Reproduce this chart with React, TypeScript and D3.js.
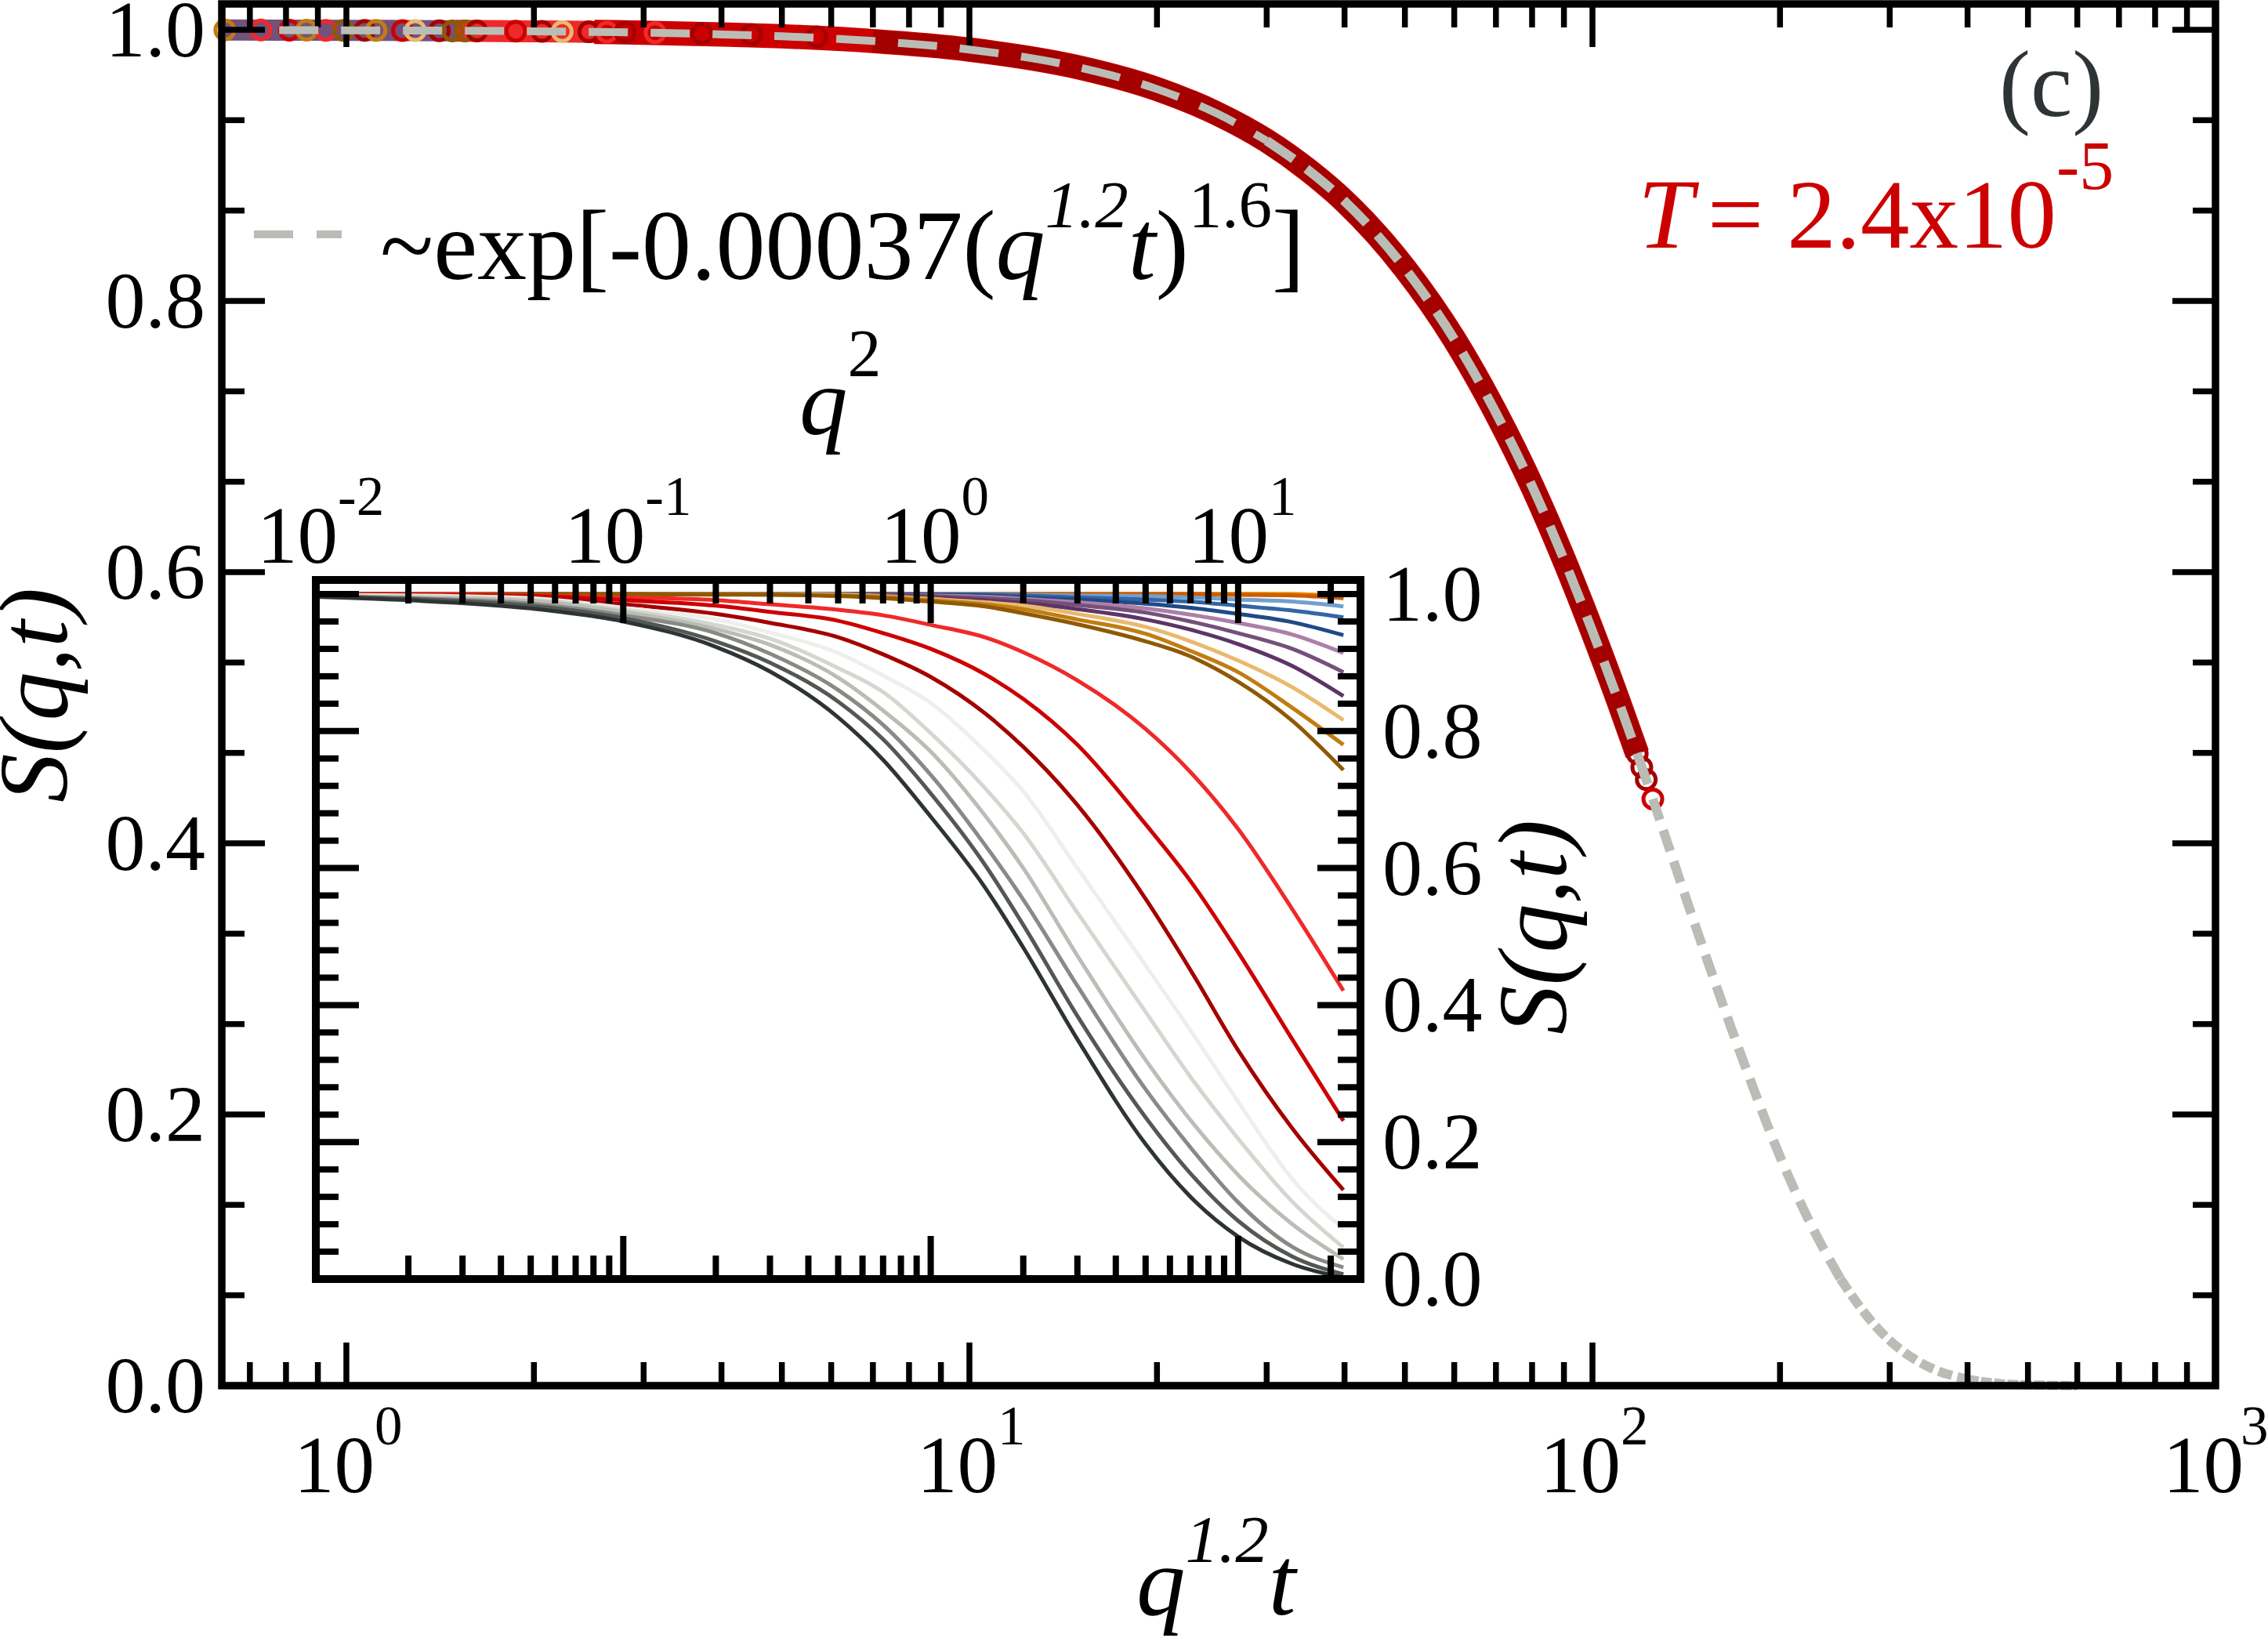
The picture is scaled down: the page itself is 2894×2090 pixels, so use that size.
/**
 * Scaled structure factor chart, with the un-scaled S(q,t) curves as an inset
 */

import { useEffect, useRef } from 'react';
import * as d3 from 'd3';

const FONT = '"Liberation Serif", "Times New Roman", serif';

// Main panel: collapsed curve
const masterX = [0.64, 0.78, 1, 1.5, 2, 2.5, 3, 4, 5, 7, 10, 15, 20, 25, 30, 35, 40, 45, 50, 60, 70, 80, 90, 100, 110, 118, 125, 150, 175, 200, 225, 250, 275, 300, 325, 350, 400, 450, 500, 600];
const masterS = [0.9998, 0.9997, 0.9996, 0.9993, 0.9989, 0.9984, 0.9979, 0.9966, 0.9952, 0.9917, 0.9854, 0.9722, 0.9563, 0.9381, 0.9182, 0.8964, 0.8736, 0.8493, 0.824, 0.7718, 0.7175, 0.6635, 0.6093, 0.5563, 0.5053, 0.466, 0.4327, 0.3247, 0.2381, 0.169, 0.1174, 0.0788, 0.0521, 0.0333, 0.021, 0.0129, 0.0046, 0.0015, 0.0005, 0];

// Open circles which can still be told apart at the ends of the band
const ringX = [0.638, 0.729, 0.81, 0.863, 0.927, 0.99, 1.07, 1.116, 1.23, 1.29, 1.41, 1.48, 1.55, 1.62, 1.87, 2.06, 2.22, 2.45, 2.62, 2.8, 3.13, 3.72, 4.47, 5.69, 118, 120, 122, 125];
const ringS = [0.9998, 0.9998, 0.9997, 0.9997, 0.9996, 0.9996, 0.9995, 0.9995, 0.9994, 0.9994, 0.9993, 0.9992, 0.9991, 0.9991, 0.999, 0.9988, 0.9987, 0.9985, 0.9983, 0.9982, 0.9978, 0.9972, 0.9964, 0.9948, 0.466, 0.456, 0.447, 0.4327];
const ringColors = ['#c17d11', '#ef2929', '#cc0000', '#c17d11', '#ef2929', '#8f5902', '#a40000', '#c17d11', '#cc0000', '#e9b96e', '#a40000', '#8f5902', '#8f5902', '#a40000', '#cc0000', '#a40000', '#e9b96e', '#a40000', '#ef2929', '#a40000', '#ef2929', '#a40000', '#a40000', '#a40000', '#a40000', '#a40000', '#a40000', '#cc0000'];

// Inset: S(q,t) against q^2, one list per curve on a shared q^2 grid
const q2Grid = [0.01, 0.02, 0.05, 0.1, 0.2, 0.3, 0.5, 0.7, 1, 1.5, 2, 3, 5, 7, 10, 15, 22];

const sGreenLight = [1, 1, 1, 1, 1, 1, 1, 1, 1, 1, 1, 1, 1, 1, 1, 0.999, 0.995];
const sGreenMid = [1, 1, 1, 1, 1, 1, 1, 1, 1, 1, 1, 1, 1, 1, 1, 0.999, 0.995];
const sGreenDark = [1, 1, 1, 1, 1, 1, 1, 1, 1, 1, 1, 1, 1, 1, 1, 0.999, 0.995];
const sYellowLight = [1, 1, 1, 1, 1, 1, 1, 1, 1, 1, 1, 1, 1, 1, 1, 1, 0.995];
const sYellowMid = [1, 1, 1, 1, 1, 1, 1, 1, 1, 1, 1, 1, 1, 1, 1, 1, 0.995];
const sYellowDark = [1, 1, 1, 1, 1, 1, 1, 1, 1, 1, 1, 1, 1, 1, 1, 1, 0.995];
const sOrangeLight = [1, 1, 1, 1, 1, 1, 1, 1, 1, 1, 1, 1, 1, 1, 0.999, 0.999, 0.998];
const sOrangeMid = [1, 1, 1, 1, 1, 1, 1, 1, 1, 1, 1, 1, 1, 1, 0.999, 0.999, 0.997];
const sOrangeDark = [1, 1, 1, 1, 1, 1, 1, 1, 1, 1, 1, 1, 1, 1, 0.999, 0.998, 0.994];
const sBlueLight = [1, 1, 1, 1, 1, 1, 1, 1, 1, 1, 0.999, 0.998, 0.997, 0.995, 0.992, 0.989, 0.982];
const sBlueMid = [1, 1, 1, 1, 1, 1, 1, 1, 0.999, 0.999, 0.998, 0.995, 0.992, 0.989, 0.983, 0.976, 0.966];
const sBlueDark = [1, 1, 1, 1, 1, 1, 1, 1, 0.999, 0.998, 0.995, 0.992, 0.986, 0.98, 0.971, 0.959, 0.94];
const sPlumLight = [1, 1, 1, 1, 1, 1, 1, 0.999, 0.998, 0.996, 0.993, 0.988, 0.979, 0.97, 0.958, 0.941, 0.914];
const sPlumMid = [1, 1, 1, 1, 1, 1, 0.999, 0.999, 0.997, 0.994, 0.991, 0.984, 0.973, 0.96, 0.943, 0.92, 0.886];
const sPlumDark = [1, 1, 1, 1, 1, 1, 0.999, 0.998, 0.995, 0.991, 0.987, 0.978, 0.963, 0.948, 0.927, 0.895, 0.851];
const sTanLight = [1, 1, 1, 1, 1, 1, 0.999, 0.997, 0.993, 0.988, 0.983, 0.971, 0.952, 0.931, 0.903, 0.864, 0.816];
const sTanMid = [1, 1, 1, 1, 1, 0.999, 0.998, 0.996, 0.991, 0.985, 0.978, 0.963, 0.942, 0.917, 0.886, 0.834, 0.78];
const sTanDark = [1, 1, 1, 1, 0.999, 0.999, 0.997, 0.994, 0.989, 0.982, 0.972, 0.956, 0.931, 0.909, 0.872, 0.815, 0.743];
const sRedLight = [1, 1, 0.998, 0.995, 0.991, 0.985, 0.977, 0.969, 0.955, 0.937, 0.915, 0.874, 0.803, 0.74, 0.657, 0.54, 0.421];
const sRedMid = [1, 0.999, 0.997, 0.991, 0.983, 0.974, 0.961, 0.943, 0.92, 0.883, 0.847, 0.78, 0.664, 0.581, 0.477, 0.35, 0.231];
const sRedDark = [0.999, 0.998, 0.994, 0.985, 0.971, 0.958, 0.937, 0.912, 0.879, 0.826, 0.777, 0.692, 0.555, 0.451, 0.334, 0.22, 0.13];
const sGrey1 = [0.999, 0.998, 0.994, 0.98, 0.963, 0.944, 0.914, 0.881, 0.841, 0.771, 0.712, 0.6, 0.458, 0.363, 0.259, 0.146, 0.073];
const sGrey2 = [0.998, 0.997, 0.992, 0.977, 0.955, 0.935, 0.892, 0.857, 0.797, 0.717, 0.651, 0.535, 0.39, 0.295, 0.205, 0.113, 0.046];
const sGrey3 = [0.998, 0.995, 0.99, 0.974, 0.949, 0.926, 0.878, 0.83, 0.77, 0.677, 0.6, 0.472, 0.32, 0.232, 0.152, 0.08, 0.029];
const sGrey4 = [0.997, 0.994, 0.986, 0.969, 0.943, 0.913, 0.86, 0.809, 0.736, 0.634, 0.554, 0.428, 0.277, 0.192, 0.112, 0.047, 0.017];
const sGrey5 = [0.997, 0.993, 0.983, 0.965, 0.931, 0.9, 0.843, 0.788, 0.709, 0.605, 0.517, 0.384, 0.236, 0.154, 0.085, 0.033, 0.007];
const sGrey6 = [0.996, 0.991, 0.979, 0.96, 0.923, 0.887, 0.82, 0.758, 0.675, 0.572, 0.484, 0.35, 0.197, 0.12, 0.062, 0.022, 0.002];

// Drawing order: the flattest curve first, the darkest grey last
const insetSeries: [string, number[]][] = [
  ['#8ae234', sGreenLight], ['#73d216', sGreenMid], ['#4e9a06', sGreenDark],
  ['#fce94f', sYellowLight], ['#edd400', sYellowMid], ['#c4a000', sYellowDark],
  ['#fcaf3e', sOrangeLight], ['#f57900', sOrangeMid], ['#ce5c00', sOrangeDark],
  ['#729fcf', sBlueLight], ['#3465a4', sBlueMid], ['#204a87', sBlueDark],
  ['#ad7fa8', sPlumLight], ['#75507b', sPlumMid], ['#5c3566', sPlumDark],
  ['#e9b96e', sTanLight], ['#c17d11', sTanMid], ['#8f5902', sTanDark],
  ['#ef2929', sRedLight], ['#cc0000', sRedMid], ['#a40000', sRedDark],
  ['#eeeeec', sGrey1], ['#d3d7cf', sGrey2], ['#babdb6', sGrey3],
  ['#888a85', sGrey4], ['#555753', sGrey5], ['#2e3436', sGrey6],
];

const mainMajorX = [1, 10, 100, 1000];
const mainMinorX = [0.7, 0.8, 0.9, 2, 3, 4, 5, 6, 7, 8, 9, 20, 30, 40, 50, 60, 70, 80, 90, 200, 300, 400, 500, 600, 700, 800, 900];
const mainMajorY = [0, 0.2, 0.4, 0.6, 0.8, 1];
const mainMinorY = [1 / 15, 2 / 15, 4 / 15, 5 / 15, 7 / 15, 8 / 15, 10 / 15, 11 / 15, 13 / 15, 14 / 15];
const insetMajorX = [0.1, 1, 10];
const insetMinorX = [0.02, 0.03, 0.04, 0.05, 0.06, 0.07, 0.08, 0.09, 0.2, 0.3, 0.4, 0.5, 0.6, 0.7, 0.8, 0.9, 2, 3, 4, 5, 6, 7, 8, 9, 20];
const insetMajorY = [0, 0.2, 0.4, 0.6, 0.8, 1];
const insetMinorY = [0.04, 0.08, 0.12, 0.16, 0.24, 0.28, 0.32, 0.36, 0.44, 0.48, 0.52, 0.56, 0.64, 0.68, 0.72, 0.76, 0.84, 0.88, 0.92, 0.96];

const mainXLabels: [number, string][] = [[1, '0'], [10, '1'], [100, '2'], [1000, '3']];
const insetXLabels: [number, string][] = [[0.01, '-2'], [0.1, '-1'], [1, '0'], [10, '1']];

interface Part {
  text: string;
  size: number;
  italic?: boolean;
  rise?: number;
  dx?: number;
}

export default function App() {
  const svgRef = useRef<SVGSVGElement>(null);

  useEffect(() => {
    if (!svgRef.current) return;

    const svg = d3.select(svgRef.current);
    svg.selectAll('*').remove();

    // Text made of several runs on a common baseline (superscripts, italics)
    const rich = (
      parent: d3.Selection<any, unknown, null, undefined>,
      x: number,
      y: number,
      parts: Part[],
      fill = '#000',
      transform?: string
    ) => {
      const t = parent.append('text')
        .attr('x', x)
        .attr('y', y)
        .attr('fill', fill)
        .style('font-family', FONT);
      if (transform) t.attr('transform', transform);
      let prev = 0;
      parts.forEach(p => {
        const rise = p.rise || 0;
        t.append('tspan')
          .attr('dx', p.dx || 0)
          .attr('dy', prev - rise)
          .style('font-size', `${p.size}px`)
          .style('font-style', p.italic ? 'italic' : 'normal')
          .text(p.text);
        prev = rise;
      });
      return t;
    };

    // Tick marks only, labels are placed by hand below
    const ticks = (
      axis: d3.Axis<any>,
      values: number[],
      length: number,
      transform: string,
      width: number
    ) => {
      const g = svg.append('g')
        .attr('transform', transform)
        .call(axis.tickValues(values).tickSize(-length).tickFormat(() => '').offset(0));
      g.select('.domain').remove();
      g.selectAll('text').remove();
      g.selectAll('line').attr('stroke', '#000').attr('stroke-width', width);
    };

    // ---- Main panel ----
    const x = d3.scaleLog().domain([0.631, 1000]).range([283, 2827]);
    const y = d3.scaleLinear().domain([0, 1]).range([1768, 38]);

    const master = masterX.map((d, i) => [d, masterS[i]] as [number, number]);
    const masterLine = d3.line<[number, number]>()
      .x(d => x(d[0]))
      .y(d => y(d[1]))
      .curve(d3.curveMonotoneX);

    const band = (from: number, to: number, color: string, width: number) => {
      svg.append('path')
        .attr('d', masterLine(master.filter(d => d[0] >= from && d[0] <= to)))
        .attr('fill', 'none')
        .attr('stroke', color)
        .attr('stroke-width', width);
    };

    // Circles overlap so densely that they read as a solid band
    band(0.64, 2.5, '#75507b', 27);
    band(1.5, 10, '#ef2929', 28);
    band(2.5, 118, '#cc0000', 31);
    band(7, 118, '#a40000', 29);

    svg.append('g')
      .selectAll('circle')
      .data(ringX)
      .enter()
      .append('circle')
      .attr('cx', d => x(d))
      .attr('cy', (_d, i) => y(ringS[i]))
      .attr('r', 12)
      .attr('fill', 'none')
      .attr('stroke', (_d, i) => ringColors[i])
      .attr('stroke-width', 5);

    // Fit line, the dashes get shorter along the curve
    const dashed = (from: number, to: number, dash: string, width: number) => {
      svg.append('path')
        .attr('d', masterLine(master.filter(d => d[0] >= from && d[0] <= to)))
        .attr('fill', 'none')
        .attr('stroke', '#babdb6')
        .attr('stroke-width', width)
        .attr('stroke-dasharray', dash);
    };

    // The tail runs into the axis and goes under the frame
    dashed(125, 250, '28 14', 12);
    dashed(250, 400, '18 7', 12);
    dashed(400, 600, '14 3', 12);

    ticks(d3.axisBottom(x), mainMajorX, 55, 'translate(0,1768)', 7.5);
    ticks(d3.axisBottom(x), mainMinorX, 30, 'translate(0,1768)', 7.5);
    ticks(d3.axisTop(x), mainMajorX, 55, 'translate(0,5)', 7.5);
    ticks(d3.axisTop(x), mainMinorX, 30, 'translate(0,5)', 7.5);
    ticks(d3.axisLeft(y), mainMajorY, 55, 'translate(283,0)', 7.5);
    ticks(d3.axisLeft(y), mainMinorY, 29, 'translate(283,0)', 7.5);
    ticks(d3.axisRight(y), mainMajorY, 55, 'translate(2827,0)', 7.5);
    ticks(d3.axisRight(y), mainMinorY, 29, 'translate(2827,0)', 7.5);

    svg.append('rect')
      .attr('x', 283)
      .attr('y', 5)
      .attr('width', 2827 - 283)
      .attr('height', 1768 - 5)
      .attr('fill', 'none')
      .attr('stroke', '#000')
      .attr('stroke-width', 9.5);

    dashed(0.78, 30, '50 29', 10);
    dashed(30, 125, '42 20', 12);

    svg.append('line')
      .attr('x1', 324)
      .attr('x2', 436)
      .attr('y1', 299)
      .attr('y2', 299)
      .attr('stroke', '#babdb6')
      .attr('stroke-width', 10)
      .attr('stroke-dasharray', '50 30');

    mainMajorY.forEach(d => {
      svg.append('text')
        .attr('x', 262)
        .attr('y', y(d) + 34)
        .attr('text-anchor', 'end')
        .style('font-family', FONT)
        .style('font-size', '102px')
        .text(d.toFixed(1));
    });

    mainXLabels.forEach(([d, e]) => {
      rich(svg as any, x(d) - 67, 1904, [
        { text: '10', size: 103 },
        { text: e, size: 71, rise: 61, dx: d === 1000 ? -4 : 0 },
      ]);
    });

    rich(svg as any, 1450, 2060, [
      { text: 'q', size: 125, italic: true },
      { text: '1.2', size: 85, italic: true, rise: 67 },
      { text: 't', size: 125, italic: true },
    ]);

    rich(svg as any, 0, 0, [{ text: 'S(q,t)', size: 125, italic: true }], '#000', 'translate(85,1024) rotate(-90)');

    rich(svg as any, 485, 356, [
      { text: '~exp[-0.00037(', size: 126 },
      { text: 'q', size: 126, italic: true },
      { text: '1.2', size: 85, italic: true, rise: 66 },
      { text: 't', size: 126, italic: true },
      { text: ')', size: 126 },
      { text: '1.6', size: 85, rise: 66 },
      { text: ']', size: 126 },
    ]);

    rich(svg as any, 2551, 148, [{ text: '(c)', size: 120 }], '#2e3436');

    rich(svg as any, 2090, 316, [
      { text: 'T', size: 127, italic: true },
      { text: '=', size: 127, dx: 18 },
      { text: '2.4x10', size: 125, dx: 30 },
      { text: '-5', size: 88, rise: 75 },
    ], '#cc0000');

    // ---- Inset ----
    const ix = d3.scaleLog().domain([0.01, 25]).range([403, 1736]);
    const iy = d3.scaleLinear().domain([0, 1]).range([1632, 758]);

    const insetLine = d3.line<number>()
      .x((_d, i) => ix(q2Grid[i]))
      .y(d => iy(d))
      .curve(d3.curveMonotoneX);

    svg.append('g')
      .selectAll('path')
      .data(insetSeries)
      .enter()
      .append('path')
      .attr('d', d => insetLine(d[1]))
      .attr('fill', 'none')
      .attr('stroke', d => d[0])
      .attr('stroke-width', 5);

    ticks(d3.axisBottom(ix), insetMajorX, 55, 'translate(0,1632)', 8);
    ticks(d3.axisBottom(ix), insetMinorX, 30, 'translate(0,1632)', 8);
    ticks(d3.axisTop(ix), insetMajorX, 55, 'translate(0,740)', 8);
    ticks(d3.axisTop(ix), insetMinorX, 30, 'translate(0,740)', 8);
    ticks(d3.axisLeft(iy), insetMajorY, 55, 'translate(403,0)', 8);
    ticks(d3.axisLeft(iy), insetMinorY, 29, 'translate(403,0)', 8);
    ticks(d3.axisRight(iy), insetMajorY, 55, 'translate(1736,0)', 8);
    ticks(d3.axisRight(iy), insetMinorY, 29, 'translate(1736,0)', 8);

    svg.append('rect')
      .attr('x', 403)
      .attr('y', 740)
      .attr('width', 1736 - 403)
      .attr('height', 1632 - 740)
      .attr('fill', 'none')
      .attr('stroke', '#000')
      .attr('stroke-width', 10);

    insetMajorY.forEach(d => {
      svg.append('text')
        .attr('x', 1764)
        .attr('y', iy(d) + 34)
        .style('font-family', FONT)
        .style('font-size', '102px')
        .text(d.toFixed(1));
    });

    insetXLabels.forEach(([d, e]) => {
      rich(svg as any, ix(d) - (e.length > 1 ? 75 : 64), 718, [
        { text: '10', size: 103 },
        { text: e, size: 71, rise: 61 },
      ]);
    });

    rich(svg as any, 1020, 554, [
      { text: 'q', size: 123, italic: true },
      { text: '2', size: 86, rise: 74 },
    ]);

    rich(svg as any, 0, 0, [{ text: 'S(q,t)', size: 125, italic: true }], '#000', 'translate(1998,1320) rotate(-90)');
  }, []);

  return (
    <svg
      ref={svgRef}
      width={2894}
      height={2090}
      viewBox="0 0 2894 2090"
      style={{ position: 'absolute', top: 0, left: 0, background: '#fff' }}
    />
  );
}
